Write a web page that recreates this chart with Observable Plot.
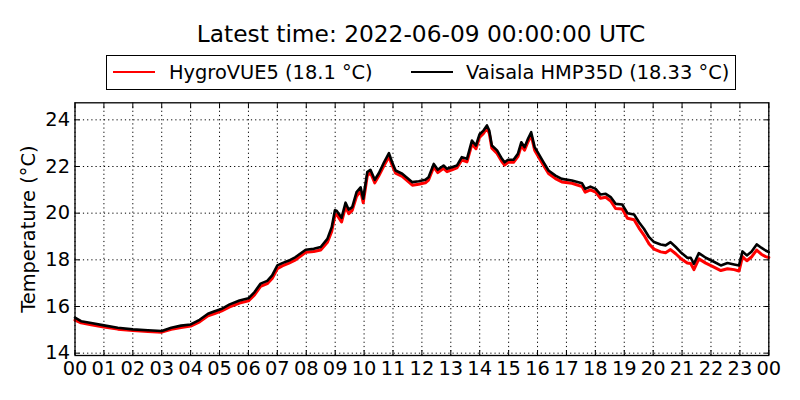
<!DOCTYPE html>
<html>
<head>
<meta charset="utf-8">
<script src="https://cdn.jsdelivr.net/npm/d3@7"></script>
<script src="https://cdn.jsdelivr.net/npm/@observablehq/plot@0.6"></script>
<style>
  html, body { margin: 0; padding: 0; background: white; }
  #wrap { position: relative; width: 800px; height: 400px; font-family: "DejaVu Sans", sans-serif; color: black; overflow: hidden; }
  #title { position: absolute; left: 74px; width: 694px; top: 20px; height: 28px; line-height: 28px; font-size: 23.3px; text-align: center; white-space: nowrap; }
  #legend { position: absolute; left: 106px; top: 55px; width: 630px; height: 35px; box-sizing: border-box; border: 1.3px solid black; font-size: 19.4px; }
  #legend .sw { position: absolute; top: 14.5px; width: 42px; height: 2.6px; }
  #legend .lab { position: absolute; top: 0; line-height: 33px; white-space: nowrap; }
  #chart { position: absolute; left: 0; top: 95px; }
</style>
</head>
<body>
<div id="wrap">
  <div id="title"></div>
  <div id="legend"></div>
  <div id="chart"></div>
</div>
<script>
const titleText = "Latest time: 2022-06-09 00:00:00 UTC";
const seriesNames = ["HygroVUE5 (18.1 °C)", "Vaisala HMP35D (18.33 °C)"];
const seriesColors = ["red", "black"];
const yLabel = "Temperature (°C)";
const xTicks = [0,1,2,3,4,5,6,7,8,9,10,11,12,13,14,15,16,17,18,19,20,21,22,23,24];
const yTicks = [14, 16, 18, 20, 22, 24];

// time in hours since 2022-06-08 00:00 UTC
const hours = [
  0.00, 0.21, 0.56, 1.00, 1.48, 2.00, 2.52, 3.00, 3.33, 3.67,
  4.00, 4.31, 4.60, 4.83, 5.06, 5.35, 5.69, 6.00, 6.21, 6.42,
  6.65, 6.82, 7.00, 7.17, 7.40, 7.63, 7.98, 8.26, 8.50, 8.73,
  8.88, 8.99, 9.05, 9.22, 9.36, 9.47, 9.59, 9.74, 9.88, 9.97,
  10.11, 10.22, 10.37, 10.51, 10.69, 10.86, 10.97, 11.09, 11.32, 11.67,
  11.89, 12.12, 12.23, 12.41, 12.55, 12.75, 12.87, 13.04, 13.21, 13.38,
  13.56, 13.73, 13.87, 13.99, 14.13, 14.25, 14.33, 14.42, 14.60, 14.77,
  14.86, 14.98, 15.17, 15.32, 15.44, 15.55, 15.67, 15.78, 15.90, 16.04,
  16.21, 16.38, 16.62, 16.84, 17.19, 17.54, 17.65, 17.83, 18.01, 18.18,
  18.36, 18.53, 18.70, 18.93, 19.11, 19.34, 19.51, 19.68, 19.86, 20.03,
  20.26, 20.43, 20.60, 20.78, 20.95, 21.18, 21.30, 21.41, 21.58, 21.82,
  22.05, 22.34, 22.57, 22.80, 22.97, 23.09, 23.24, 23.40, 23.58, 23.74,
  23.89, 24.00
];

const hygroVUE5 = [
  15.42, 15.30, 15.22, 15.12, 15.03, 14.97, 14.93, 14.90, 15.02, 15.10,
  15.16, 15.34, 15.60, 15.70, 15.80, 15.98, 16.15, 16.24, 16.50, 16.86,
  16.98, 17.20, 17.62, 17.74, 17.86, 18.00, 18.32, 18.36, 18.42, 18.75,
  19.22, 19.90, 19.95, 19.62, 20.28, 19.98, 20.12, 20.72, 20.96, 20.45,
  21.60, 21.74, 21.30, 21.60, 22.04, 22.42, 22.06, 21.72, 21.58, 21.20,
  21.24, 21.30, 21.42, 21.98, 21.74, 21.92, 21.78, 21.86, 21.94, 22.28,
  22.20, 22.96, 22.76, 23.24, 23.42, 23.64, 23.42, 22.78, 22.56, 22.20,
  22.06, 22.18, 22.18, 22.42, 22.90, 22.70, 23.06, 23.34, 22.70, 22.40,
  22.04, 21.70, 21.48, 21.34, 21.28, 21.14, 20.90, 21.00, 20.90, 20.64,
  20.68, 20.52, 20.20, 20.18, 19.78, 19.72, 19.36, 19.06, 18.68, 18.46,
  18.34, 18.30, 18.44, 18.26, 18.06, 17.86, 17.84, 17.58, 18.04, 17.86,
  17.72, 17.54, 17.62, 17.58, 17.52, 18.14, 17.96, 18.12, 18.42, 18.24,
  18.14, 18.10
];

const vaisalaHMP35D = [
  15.52, 15.37, 15.29, 15.19, 15.09, 15.02, 14.98, 14.95, 15.09, 15.18,
  15.23, 15.43, 15.69, 15.80, 15.89, 16.09, 16.26, 16.35, 16.62, 16.98,
  17.10, 17.33, 17.76, 17.86, 17.97, 18.12, 18.43, 18.47, 18.55, 18.90,
  19.40, 20.12, 20.10, 19.80, 20.45, 20.15, 20.26, 20.90, 21.11, 20.62,
  21.76, 21.86, 21.43, 21.71, 22.18, 22.57, 22.18, 21.83, 21.69, 21.33,
  21.37, 21.43, 21.54, 22.11, 21.86, 22.04, 21.90, 21.97, 22.04, 22.40,
  22.33, 23.11, 22.90, 23.37, 23.54, 23.76, 23.54, 22.90, 22.69, 22.33,
  22.18, 22.29, 22.29, 22.54, 23.04, 22.83, 23.19, 23.47, 22.83, 22.54,
  22.18, 21.83, 21.61, 21.47, 21.40, 21.28, 21.04, 21.14, 21.04, 20.80,
  20.83, 20.69, 20.40, 20.37, 20.00, 19.94, 19.61, 19.33, 18.97, 18.76,
  18.66, 18.62, 18.76, 18.55, 18.33, 18.09, 18.09, 17.83, 18.29, 18.09,
  17.95, 17.76, 17.86, 17.80, 17.76, 18.36, 18.19, 18.35, 18.66, 18.52,
  18.40, 18.33
];

document.getElementById("title").textContent = titleText;

// legend
const legend = document.getElementById("legend");
const swLeft = [6, 304];
const labLeft = [62, 359];
seriesNames.forEach((name, i) => {
  const sw = document.createElement("div");
  sw.className = "sw";
  sw.style.left = swLeft[i] + "px";
  sw.style.background = seriesColors[i];
  legend.appendChild(sw);
  const lab = document.createElement("div");
  lab.className = "lab";
  lab.style.left = labLeft[i] + "px";
  lab.textContent = name;
  legend.appendChild(lab);
});

const rowsH = hours.map((h, i) => ({h, v: hygroVUE5[i]}));
const rowsV = hours.map((h, i) => ({h, v: vaisalaHMP35D[i]}));
const fmt = d => String(d % 24).padStart(2, "0");
const blank = () => "";

const chart = Plot.plot({
  width: 800,
  height: 305,
  marginLeft: 74.5,
  marginRight: 31.7,
  marginTop: 7.3,
  marginBottom: 45,
  style: {fontFamily: "DejaVu Sans", fontSize: "19.4px", color: "black", background: "white", overflow: "visible"},
  x: {domain: [0, 24], label: null},
  y: {domain: [13.9, 24.73], label: null},
  marks: [
    Plot.gridX(xTicks, {stroke: "black", strokeOpacity: 1, strokeWidth: 1, strokeDasharray: "1.2,3"}),
    Plot.gridY(yTicks, {stroke: "black", strokeOpacity: 1, strokeWidth: 1, strokeDasharray: "1.2,3"}),
    Plot.line(rowsH, {x: "h", y: "v", stroke: seriesColors[0], strokeWidth: 3, strokeLinejoin: "round"}),
    Plot.line(rowsV, {x: "h", y: "v", stroke: seriesColors[1], strokeWidth: 2.6, strokeLinejoin: "round"}),
    Plot.frame({stroke: "black", strokeWidth: 1.3}),
    Plot.axisX({anchor: "bottom", ticks: xTicks, tickFormat: fmt, tickSize: 0, tickPadding: 6, label: null}),
    Plot.axisX({anchor: "bottom", ticks: xTicks, tickFormat: blank, tickSize: -5, label: null}),
    Plot.axisX({anchor: "top", ticks: xTicks, tickFormat: blank, tickSize: -5, label: null}),
    Plot.axisY({anchor: "left", ticks: yTicks, tickSize: 0, tickPadding: 5, label: yLabel, labelAnchor: "center", labelArrow: "none", labelOffset: 54}),
    Plot.axisY({anchor: "left", ticks: yTicks, tickFormat: blank, tickSize: -5, label: null}),
    Plot.axisY({anchor: "right", ticks: yTicks, tickFormat: blank, tickSize: -5, label: null})
  ]
});
document.getElementById("chart").appendChild(chart);
</script>
</body>
</html>
